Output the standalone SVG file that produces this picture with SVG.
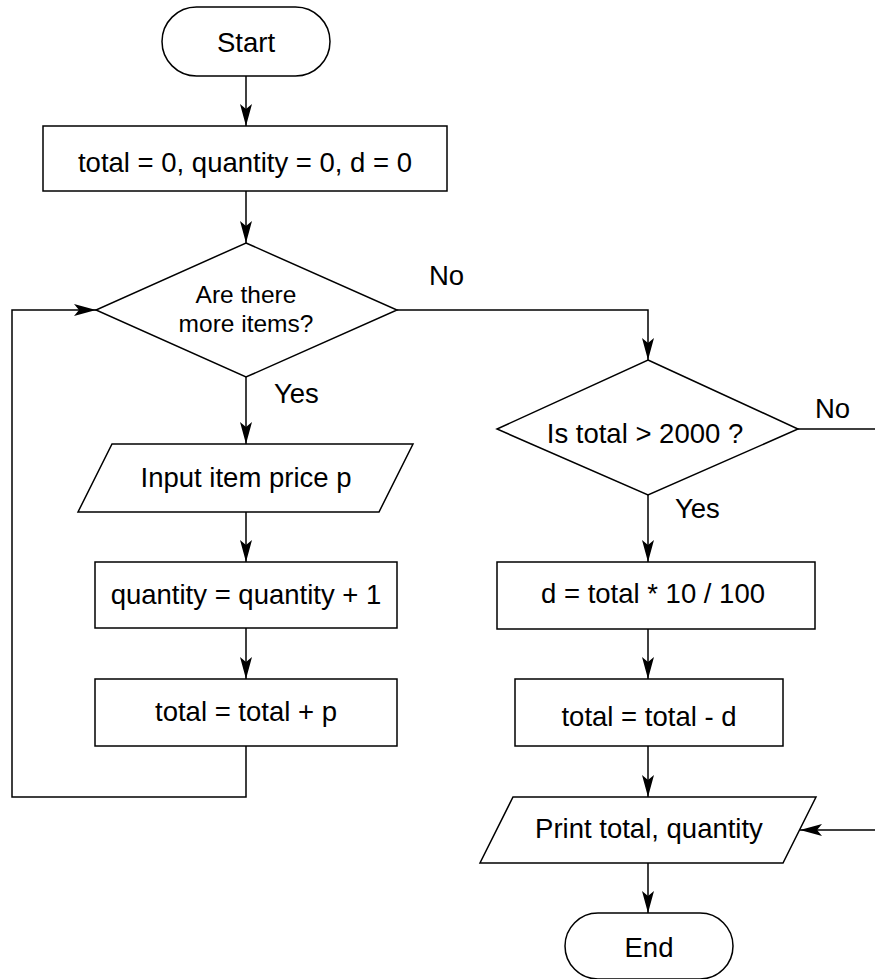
<svg xmlns="http://www.w3.org/2000/svg" width="875" height="979" viewBox="0 0 875 979">
<style>
.s{fill:#fff;stroke:#000;stroke-width:1.5}
.c{fill:none;stroke:#000;stroke-width:1.5}
text{font-family:"Liberation Sans",Arial,sans-serif;font-size:27.5px;fill:#000}
.m{text-anchor:middle}
.d{font-size:24.5px}
</style>
<defs>
<marker id="ah" markerWidth="24" markerHeight="14" refX="22" refY="7" orient="auto" markerUnits="userSpaceOnUse">
<path d="M0,1 L22,7 L0,13 L5,7 Z" fill="#000"/>
</marker>
</defs>
<rect width="875" height="979" fill="#fff"/>
<g id="connectors">
<path class="c" d="M246,76 V126" marker-end="url(#ah)"/>
<path class="c" d="M246,191 V243" marker-end="url(#ah)"/>
<path class="c" d="M246,377 V444" marker-end="url(#ah)"/>
<path class="c" d="M246,512 V562" marker-end="url(#ah)"/>
<path class="c" d="M246,628 V679" marker-end="url(#ah)"/>
<path class="c" d="M246,746 V797 H12 V310 H96" marker-end="url(#ah)"/>
<path class="c" d="M397,310 H648 V360" marker-end="url(#ah)"/>
<path class="c" d="M648,495 V562" marker-end="url(#ah)"/>
<path class="c" d="M648,629 V679" marker-end="url(#ah)"/>
<path class="c" d="M648,746 V797" marker-end="url(#ah)"/>
<path class="c" d="M798,429 H880 V830 H800" marker-end="url(#ah)"/>
<path class="c" d="M648,863 V913" marker-end="url(#ah)"/>
<text x="274" y="403">Yes</text>
<text x="429" y="285">No</text>
<text x="815" y="418">No</text>
<text x="675" y="518">Yes</text>
</g>
<g id="start">
<rect class="s" x="162" y="7" width="168" height="69" rx="34.5"/>
<text class="m" x="246" y="52">Start</text>
</g>
<g id="init">
<rect class="s" x="43" y="126" width="404" height="65"/>
<text class="m" x="245" y="172">total = 0, quantity = 0, d = 0</text>
</g>
<g id="more-items">
<polygon class="s" points="246,243 397,310 246,377 96,310"/>
<text class="m d" x="246" y="303">Are there</text>
<text class="m d" x="246" y="332">more items?</text>
</g>
<g id="input-price">
<polygon class="s" points="112,444 413,444 379,512 78,512"/>
<text class="m" x="246" y="487">Input item price p</text>
</g>
<g id="qty-inc">
<rect class="s" x="95" y="562" width="302" height="66"/>
<text class="m" x="246" y="604">quantity = quantity + 1</text>
</g>
<g id="total-add">
<rect class="s" x="95" y="679" width="302" height="67"/>
<text class="m" x="246" y="721">total = total + p</text>
</g>
<g id="check-total">
<polygon class="s" points="648,360 798,429 648,495 497,429"/>
<text class="m" x="645" y="443">Is total &gt; 2000 ?</text>
</g>
<g id="discount">
<rect class="s" x="497" y="562" width="318" height="67"/>
<text class="m" x="653" y="603">d = total * 10 / 100</text>
</g>
<g id="total-sub">
<rect class="s" x="515" y="679" width="268" height="67"/>
<text class="m" x="649" y="726">total = total - d</text>
</g>
<g id="print">
<polygon class="s" points="513,797 816,797 783,863 480,863"/>
<text class="m" x="649" y="838">Print total, quantity</text>
</g>
<g id="end">
<rect class="s" x="565" y="913" width="168" height="66" rx="33"/>
<text class="m" x="649" y="957">End</text>
</g>
</svg>
